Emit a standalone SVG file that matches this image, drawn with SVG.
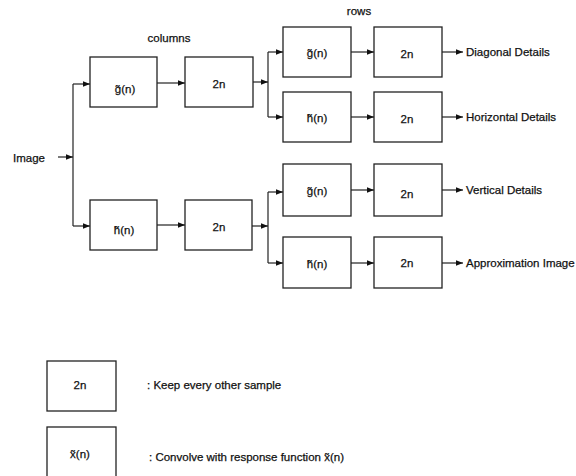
<svg xmlns="http://www.w3.org/2000/svg" width="576" height="476" viewBox="0 0 576 476">
<defs>
<marker id="ah" viewBox="0 0 10 10" refX="10" refY="5" markerWidth="10" markerHeight="7" orient="auto" markerUnits="userSpaceOnUse">
<path d="M0,1 L10,5 L0,9 Z" fill="#111"/>
</marker>
</defs>
<style>
.box{fill:#fff;stroke:#222;stroke-width:1.3}
.t{font-family:"Liberation Sans",Arial,sans-serif;font-size:11.5px;fill:#111;stroke:#111;stroke-width:0.25}
.c{text-anchor:middle}
.ln{fill:none;stroke:#222;stroke-width:1.2}
.ar{fill:none;stroke:#222;stroke-width:1.2;marker-end:url(#ah)}
</style>
<rect width="576" height="476" fill="#fff"/>
<text class="t c" x="169" y="42">columns</text>
<text class="t c" x="359" y="15">rows</text>
<text class="t" x="13" y="162">Image</text>

<g id="connectors">
<line class="ar" x1="58" y1="157" x2="73" y2="157"/>
<polyline class="ln" points="73,84 73,226"/>
<line class="ar" x1="73" y1="84" x2="90" y2="84"/>
<line class="ar" x1="73" y1="226" x2="90" y2="226"/>
<line class="ar" x1="157" y1="83" x2="185" y2="83"/>
<line class="ar" x1="157" y1="225" x2="185" y2="225"/>
<line class="ar" x1="253" y1="82" x2="268" y2="82"/>
<line class="ar" x1="252" y1="226" x2="268" y2="226"/>
<polyline class="ln" points="268,52 268,117"/>
<polyline class="ln" points="268,192 268,263"/>
<line class="ar" x1="268" y1="52" x2="283" y2="52"/>
<line class="ar" x1="268" y1="117" x2="283" y2="117"/>
<line class="ar" x1="268" y1="192" x2="283" y2="192"/>
<line class="ar" x1="268" y1="263" x2="283" y2="263"/>
<line class="ar" x1="351" y1="52" x2="374" y2="52"/>
<line class="ar" x1="351" y1="117" x2="374" y2="117"/>
<line class="ar" x1="351" y1="190" x2="374" y2="190"/>
<line class="ar" x1="351" y1="263" x2="374" y2="263"/>
<line class="ar" x1="442" y1="52" x2="463" y2="52"/>
<line class="ar" x1="442" y1="117" x2="463" y2="117"/>
<line class="ar" x1="442" y1="190" x2="463" y2="190"/>
<line class="ar" x1="442" y1="263" x2="463" y2="263"/>
</g>

<g id="col-g"><rect class="box" x="90" y="57" width="67" height="50"/><text class="t c" x="125" y="93">g̃(n)</text></g>
<g id="col-g-down"><rect class="box" x="185" y="57" width="68" height="50"/><text class="t c" x="219" y="88">2n</text></g>
<g id="col-h"><rect class="box" x="90" y="200" width="67" height="50"/><text class="t c" x="124" y="234">h̃(n)</text></g>
<g id="col-h-down"><rect class="box" x="185" y="200" width="67" height="50"/><text class="t c" x="219" y="231">2n</text></g>

<g id="row-gg"><rect class="box" x="283" y="27" width="68" height="50"/><text class="t c" x="317" y="57">g̃(n)</text></g>
<g id="row-gg-down"><rect class="box" x="374" y="27" width="68" height="50"/><text class="t c" x="407" y="58">2n</text></g>
<g id="row-gh"><rect class="box" x="283" y="92" width="68" height="50"/><text class="t c" x="317" y="122">h̃(n)</text></g>
<g id="row-gh-down"><rect class="box" x="374" y="92" width="68" height="50"/><text class="t c" x="407" y="123">2n</text></g>
<g id="row-hg"><rect class="box" x="283" y="164" width="68" height="52"/><text class="t c" x="317" y="195">g̃(n)</text></g>
<g id="row-hg-down"><rect class="box" x="374" y="164" width="68" height="52"/><text class="t c" x="407" y="198">2n</text></g>
<g id="row-hh"><rect class="box" x="283" y="237" width="68" height="51"/><text class="t c" x="317" y="268">h̃(n)</text></g>
<g id="row-hh-down"><rect class="box" x="374" y="237" width="68" height="51"/><text class="t c" x="407" y="267">2n</text></g>

<g id="out-diag"><text class="t" x="466" y="56">Diagonal Details</text></g>
<g id="out-horiz"><text class="t" x="466" y="121">Horizontal Details</text></g>
<g id="out-vert"><text class="t" x="466" y="194">Vertical Details</text></g>
<g id="out-approx"><text class="t" x="466" y="267">Approximation Image</text></g>

<g id="legend-down"><rect class="box" x="47" y="361" width="69" height="50"/><text class="t c" x="80" y="389">2n</text><text class="t" x="147" y="389">:  Keep every other sample</text></g>
<g id="legend-conv"><rect class="box" x="47" y="427" width="69" height="52"/><text class="t c" x="80" y="458">x̃(n)</text><text class="t" x="149" y="461">:  Convolve with response function x̃(n)</text></g>
</svg>
